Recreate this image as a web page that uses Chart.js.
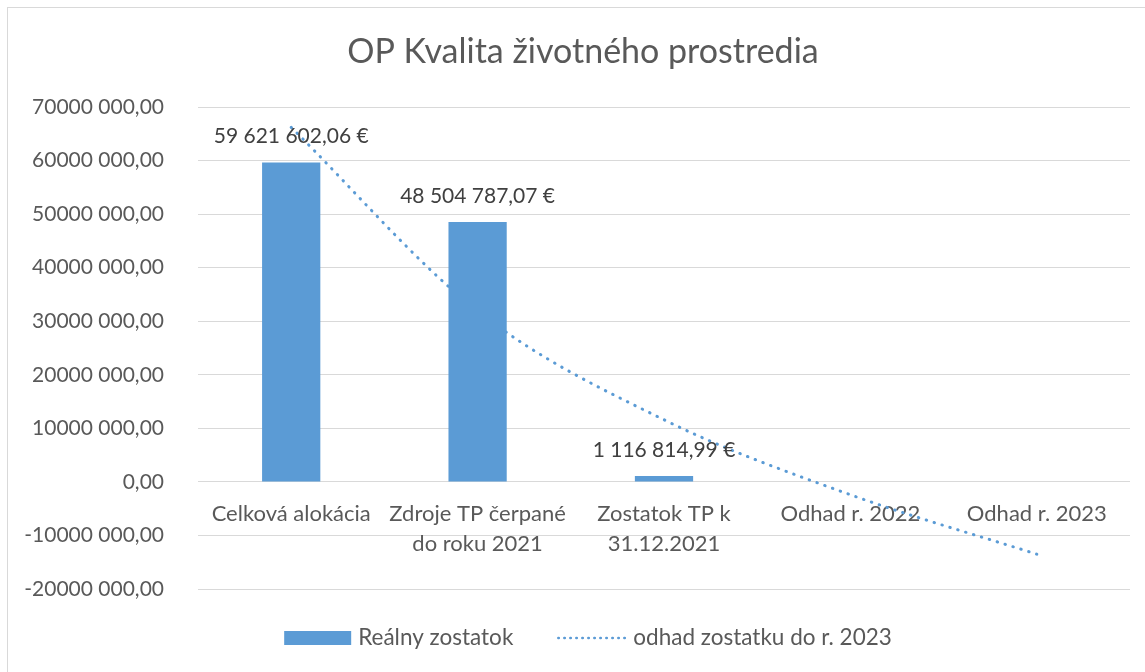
<!DOCTYPE html>
<html><head><meta charset="utf-8">
<script src="https://cdn.jsdelivr.net/npm/chart.js@4.4.0/dist/chart.umd.min.js"></script>
<style>
html,body{margin:0;padding:0;background:#fff;overflow:hidden;width:1145px;height:672px}
#wrap{position:absolute;left:0;top:0;width:1165px;height:672px}
</style></head><body>
<div id="wrap"><canvas id="c" width="1165" height="672"></canvas></div>
<script>
const TITLE = 'OP Kvalita životného prostredia';
const categories = ['Celková alokácia', ['Zdroje TP čerpané', 'do roku 2021'], ['Zostatok TP k', '31.12.2021'], 'Odhad r. 2022', 'Odhad r. 2023'];
const realValues = [59621602.06, 48504787.07, 1116814.99, null, null];
const realLabels = ['59 621 602,06 €', '48 504 787,07 €', '1 116 814,99 €', '', ''];
const trendValues = [66200000, 31900000, 11600000, -2400000, -13500000];
const seriesNames = ['Reálny zostatok', 'odhad zostatku do r. 2023'];
const yMin = -20000000, yMax = 70000000, yStep = 10000000;

const FONT = 'Lato';
const TXT = '#595959';
const BLUE = '#5B9BD5';

function fmt(v) {
  const neg = v < 0;
  const s = String(Math.abs(Math.round(v)));
  const out = s.length > 3 ? s.slice(0, -3) + ' ' + s.slice(-3) : s;
  return (neg ? '-' : '') + out + ',00';
}

const framePlugin = {
  id: 'frame',
  beforeDraw(chart) {
    const ctx = chart.ctx;
    ctx.save();
    ctx.fillStyle = '#fff';
    ctx.fillRect(0, 0, chart.width, chart.height);
    ctx.strokeStyle = '#d9d9d9';
    ctx.lineWidth = 1;
    ctx.strokeRect(7.5, 7.5, 1156, 700);
    ctx.fillStyle = TXT;
    ctx.font = '34px ' + FONT;
    ctx.textAlign = 'center';
    ctx.textBaseline = 'middle';
    ctx.fillText(TITLE, 583, 52);
    ctx.restore();
  }
};

const labelPlugin = {
  id: 'barLabels',
  afterDatasetsDraw(chart) {
    const ctx = chart.ctx;
    const meta = chart.getDatasetMeta(0);
    ctx.save();
    ctx.font = '21px ' + FONT;
    ctx.fillStyle = '#404040';
    ctx.textAlign = 'center';
    ctx.textBaseline = 'middle';
    meta.data.forEach((el, i) => {
      if (realValues[i] == null) return;
      ctx.fillText(realLabels[i], el.x, el.y - 26);
    });
    ctx.restore();
  }
};

const legendPlugin = {
  id: 'customLegend',
  afterDraw(chart) {
    const ctx = chart.ctx;
    const ds0 = chart.data.datasets[0], ds1 = chart.data.datasets[1];
    ctx.save();
    ctx.font = '22.5px ' + FONT;
    ctx.textBaseline = 'middle';
    ctx.textAlign = 'left';
    const y = 638;
    const w1 = ctx.measureText(seriesNames[0]).width;
    const w2 = ctx.measureText(seriesNames[1]).width;
    const boxW = 67, lineW = 70, gap = 7, between = 43;
    const total = boxW + gap + w1 + between + lineW + gap + w2;
    let x = 588 - total / 2;
    ctx.fillStyle = ds0.backgroundColor;
    ctx.fillRect(x, y - 7, boxW, 14);
    x += boxW + gap;
    ctx.fillStyle = TXT;
    ctx.fillText(seriesNames[0], x, y);
    x += w1 + between;
    ctx.strokeStyle = ds1.borderColor;
    ctx.lineWidth = 2.5;
    ctx.lineCap = 'round';
    ctx.setLineDash([0.5, 5.5]);
    ctx.beginPath();
    ctx.moveTo(x + 2, y);
    ctx.lineTo(x + lineW, y);
    ctx.stroke();
    ctx.setLineDash([]);
    x += lineW + gap;
    ctx.fillText(seriesNames[1], x, y);
    ctx.restore();
  }
};

new Chart(document.getElementById('c'), {
  type: 'bar',
  data: {
    labels: categories,
    datasets: [
      { type: 'bar', label: seriesNames[0], data: realValues, backgroundColor: BLUE,
        barPercentage: 0.3125, categoryPercentage: 1, order: 0 },
      { type: 'line', label: seriesNames[1], data: trendValues, borderColor: BLUE,
        borderWidth: 3, borderDash: [0.5, 7.75], borderCapStyle: 'round', pointRadius: 0,
        cubicInterpolationMode: 'monotone', fill: false, order: 1 }
    ]
  },
  options: {
    responsive: false,
    animation: false,
    devicePixelRatio: 1,
    layout: { padding: { left: 0, right: 35, top: 107, bottom: 83 } },
    plugins: {
      legend: { display: false },
      tooltip: { enabled: false },
      title: { display: false }
    },
    scales: {
      x: {
        position: { y: 0 },
        grid: { display: false, drawTicks: false },
        border: { display: false },
        ticks: { color: TXT, font: { family: FONT, size: 22, lineHeight: 1.36 }, padding: 17,
          maxRotation: 0, autoSkip: false },
        afterFit: s => { s.height = 0; }
      },
      y: {
        min: yMin, max: yMax,
        ticks: { stepSize: yStep, callback: fmt, color: TXT, font: { family: FONT, size: 21 }, padding: 34 },
        grid: { color: '#d9d9d9', lineWidth: 1, drawTicks: false },
        border: { display: false },
        afterFit: s => { s.width = 198; }
      }
    }
  },
  plugins: [framePlugin, labelPlugin, legendPlugin]
});
</script>
</body></html>
